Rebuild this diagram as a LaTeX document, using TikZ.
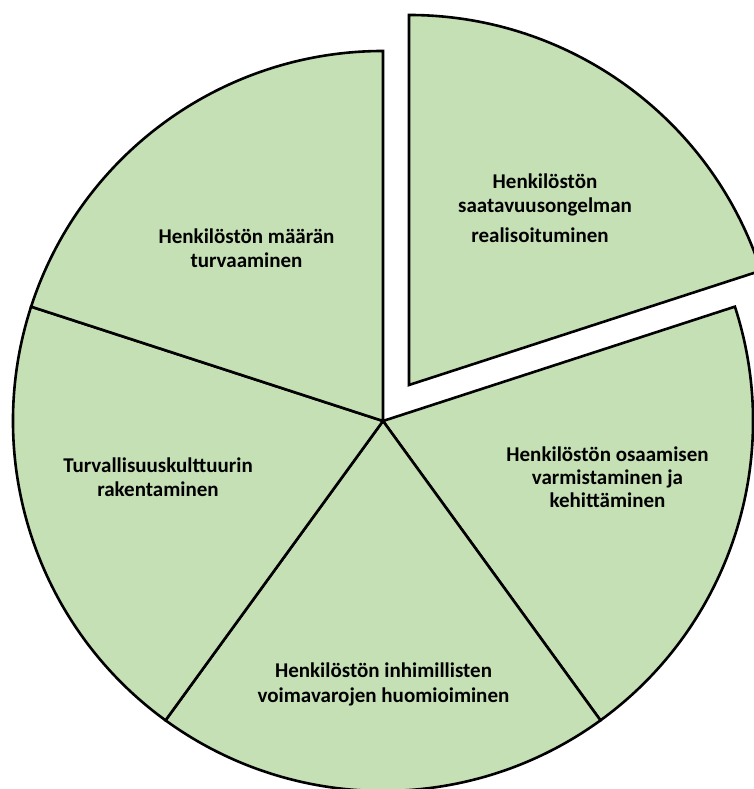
\documentclass[tikz,border=0pt]{standalone}
\usepackage{fontspec}
\setmainfont{Carlito}
\begin{document}
\begin{tikzpicture}[x=1pt,y=1pt,
  slice/.style={fill=sliceGreen,draw=black,line width=2.6pt,line join=miter},
  sectortext/.style={font=\bfseries\fontsize{21}{24}\selectfont,align=center,anchor=base,inner sep=0pt,text=black}]
\definecolor{sliceGreen}{HTML}{C5E0B4}
\clip (0,0) rectangle (754,789);
\useasboundingbox (0,0) rectangle (754,789);

% pie centre and the pulled-out sector's apex
\coordinate (c) at (383,368);
\coordinate (e) at (409,404);

% four sectors around the centre
\draw[slice] (c) -- ++(18:370) arc[start angle=18,end angle=-54,radius=370] -- cycle;
\draw[slice] (c) -- ++(-54:370) arc[start angle=-54,end angle=-126,radius=370] -- cycle;
\draw[slice] (c) -- ++(-126:370) arc[start angle=-126,end angle=-198,radius=370] -- cycle;
\draw[slice] (c) -- ++(162:370) arc[start angle=162,end angle=90,radius=370] -- cycle;
% the pulled-out sector
\draw[slice] (e) -- ++(90:370) arc[start angle=90,end angle=18,radius=370] -- cycle;

% sector labels (anchored at the baseline of their last line)
\node[sectortext] (maara) at (246.5,521) {Henkilöstön määrän\\turvaaminen};
\node[sectortext] (saatavuus) at (545,546) {Henkilöstön\\saatavuusongelman\\[6pt]realisoituminen\hspace*{10pt}};
\node[sectortext,font=\bfseries\fontsize{21}{23}\selectfont] (osaaminen) at (607.5,281) {Henkilöstön osaamisen\\varmistaminen ja\\kehittäminen};
\node[sectortext] (turvallisuus) at (158,292) {Turvallisuuskulttuurin\\rakentaminen};
\node[sectortext,font=\bfseries\fontsize{21}{25}\selectfont] (voimavarat) at (383.5,86) {Henkilöstön inhimillisten\\voimavarojen huomioiminen};
\end{tikzpicture}
\end{document}
